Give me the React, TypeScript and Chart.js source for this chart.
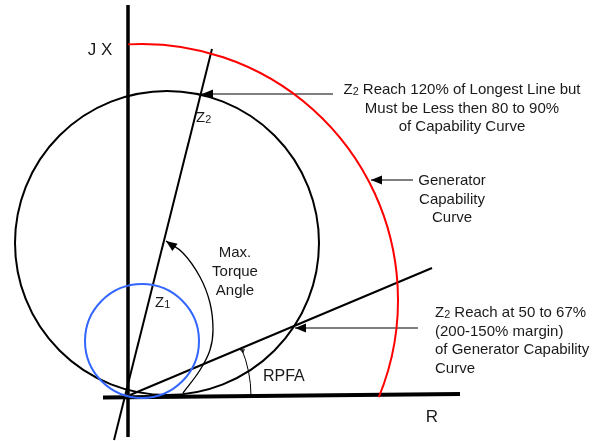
import React, { useEffect, useRef } from "react";
import { Chart, registerables } from "chart.js";

Chart.register(...registerables);

// Coordinate frame: origin at the R/JX crossing, units ~ pixels
const X_RANGE = [-128, 475];
const Y_RANGE = [-45, 396];

// Straight lines
const jxAxis = [{ x: 0, y: 391 }, { x: 0, y: -41 }];
const rAxis = [{ x: -25, y: -1.5 }, { x: 332, y: 2 }];
const zLine = [{ x: -14, y: -44 }, { x: 84, y: 347 }];
const rpfaLine = [{ x: 2, y: 1 }, { x: 304, y: 128 }];

// Curved "Max. Torque Angle" arrow
const torqueArc = [
  { x: 55, y: 3 }, { x: 72, y: 26 }, { x: 82, y: 46 }, { x: 85, y: 66 },
  { x: 82, y: 93 }, { x: 72, y: 119 }, { x: 55, y: 143 }, { x: 38, y: 155 },
];

// Small tick at the end of the RPFA angle arc
const rpfaTick = [{ x: 116, y: 45 }, { x: 112, y: 46.5 }];

// Annotation arrows (tail -> tip)
const arrowZ2Top = [{ x: 205, y: 302 }, { x: 74, y: 302 }];
const arrowCapability = [{ x: 285, y: 216 }, { x: 243, y: 216 }];
const arrowZ2Reach = [{ x: 290, y: 68 }, { x: 167, y: 68 }];

// Circles / arcs: centre x, centre y, radius, start deg, end deg
const mhoCircle = [39, 153, 152, 0, 360];
const z1Circle = [14, 55, 57, 0, 360];
const capabilityArc = [14, 96, 256, 93.1, -22.3];
const rpfaAngleArc = [0, 0, 123, 0, 22.8];

// Texts
const noteZ2Top = ["Reach 120% of Longest Line but", "Must be Less then 80 to 90%", "of Capability Curve"];
const noteCapability = ["Generator", "Capability", "Curve"];
const noteZ2Reach = ["Reach at 50 to 67%", "(200-150% margin)", "of Generator Capability", "Curve"];
const noteTorque = ["Max.", "Torque", "Angle"];

const FONT = '"Liberation Sans", Arial, sans-serif';

const arcStyles = [
  { data: mhoCircle, color: "#000000", width: 2 },
  { data: z1Circle, color: "#3366ff", width: 2 },
  { data: capabilityArc, color: "#ff0000", width: 2 },
  { data: rpfaAngleArc, color: "#000000", width: 1 },
];

const diagramPlugin = {
  id: "diagram",
  afterDatasetsDraw(chart: any) {
    const { ctx } = chart;
    const xs = chart.scales.x;
    const ys = chart.scales.y;
    const px = (v: number) => xs.getPixelForValue(v);
    const py = (v: number) => ys.getPixelForValue(v);

    // arcs
    arcStyles.forEach((a) => {
      const [cx, cy, r, s, e] = a.data;
      const rp = px(cx + r) - px(cx);
      ctx.save();
      ctx.beginPath();
      ctx.strokeStyle = a.color;
      ctx.lineWidth = a.width;
      ctx.arc(px(cx), py(cy), rp, (-s * Math.PI) / 180, (-e * Math.PI) / 180, e > s);
      ctx.stroke();
      ctx.restore();
    });

    // arrowheads
    chart.data.datasets.forEach((ds: any, i: number) => {
      if (!ds.arrow) return;
      const meta = chart.getDatasetMeta(i);
      const pts = meta.data;
      const n = pts.length;
      const tip = pts[n - 1];
      const prev = pts[n - 2];
      const ang = Math.atan2(tip.y - prev.y, tip.x - prev.x);
      const L = ds.arrowLen || 11;
      const W = ds.arrowWidth || 4.5;
      ctx.save();
      ctx.fillStyle = "#000";
      ctx.beginPath();
      ctx.moveTo(tip.x, tip.y);
      ctx.lineTo(tip.x - L * Math.cos(ang) + W * Math.sin(ang), tip.y - L * Math.sin(ang) - W * Math.cos(ang));
      ctx.lineTo(tip.x - L * Math.cos(ang) - W * Math.sin(ang), tip.y - L * Math.sin(ang) + W * Math.cos(ang));
      ctx.closePath();
      if (ds.hollow) {
        ctx.strokeStyle = "#000";
        ctx.lineWidth = 0.8;
        ctx.stroke();
      } else {
        ctx.fill();
      }
      ctx.restore();
    });

    // texts
    ctx.save();
    ctx.fillStyle = "#1a1a1a";
    ctx.textBaseline = "middle";
    const text = (t: string, x: number, y: number, size: number, align: string) => {
      ctx.font = `${size}px ${FONT}`;
      ctx.textAlign = align;
      ctx.fillText(t, px(x), py(y));
    };
    // Z with subscript, then rest of line
    const zsub = (sub: string, rest: string, x: number, y: number, size: number, align: string) => {
      ctx.font = `${size}px ${FONT}`;
      const wz = ctx.measureText("Z").width;
      ctx.font = `${size * 0.72}px ${FONT}`;
      const ws = ctx.measureText(sub).width;
      ctx.font = `${size}px ${FONT}`;
      const wr = rest ? ctx.measureText(" " + rest).width : 0;
      const total = wz + ws + wr;
      let x0 = px(x);
      if (align === "center") x0 -= total / 2;
      const yy = py(y);
      ctx.textAlign = "left";
      ctx.font = `${size}px ${FONT}`;
      ctx.fillText("Z", x0, yy);
      ctx.font = `${size * 0.72}px ${FONT}`;
      ctx.fillText(sub, x0 + wz, yy + size * 0.12);
      ctx.font = `${size}px ${FONT}`;
      if (rest) ctx.fillText(" " + rest, x0 + wz + ws, yy);
    };

    text("J X", -28, 346, 17, "center");
    text("R", 304, -21, 17, "center");
    text("RPFA", 135, 19, 16, "left");
    zsub("2", "", 68, 278, 15, "left");
    zsub("1", "", 27, 93, 15, "left");

    zsub("2", noteZ2Top[0], 334, 306, 15, "center");
    text(noteZ2Top[1], 334, 287, 15, "center");
    text(noteZ2Top[2], 334, 269, 15, "center");

    noteCapability.forEach((t, i) => text(t, 324, 215 - i * 18.5, 15, "center"));

    zsub("2", noteZ2Reach[0], 307, 83, 15, "left");
    noteZ2Reach.slice(1).forEach((t, i) => text(t, 307, 64.5 - i * 18.5, 15, "left"));

    noteTorque.forEach((t, i) => text(t, 107, 143 - i * 19, 15, "center"));
    ctx.restore();
  },
};

const lineDs = (data: any[], color: string, width: number, extra: any = {}) => ({
  data,
  showLine: true,
  borderColor: color,
  backgroundColor: color,
  borderWidth: width,
  pointRadius: 0,
  pointHoverRadius: 0,
  fill: false,
  ...extra,
});

export default function App() {
  const ref = useRef<HTMLCanvasElement>(null);
  useEffect(() => {
    if (!ref.current) return;
    const chart = new Chart(ref.current, {
      type: "scatter",
      data: {
        datasets: [
          lineDs(jxAxis, "#000", 3.5),
          lineDs(rAxis, "#000", 4),
          lineDs(zLine, "#000", 2),
          lineDs(rpfaLine, "#000", 2),
          lineDs(torqueArc, "#000", 1.3, { tension: 0.4, arrow: true, arrowLen: 11, arrowWidth: 4.5 }),
          lineDs(rpfaTick, "#000", 0.8, { arrow: true, hollow: true, arrowLen: 4, arrowWidth: 2 }),
          lineDs(arrowZ2Top, "#555", 1.5, { arrow: true }),
          lineDs(arrowCapability, "#555", 1.5, { arrow: true }),
          lineDs(arrowZ2Reach, "#555", 1.5, { arrow: true }),
        ] as any,
      },
      options: {
        animation: false,
        responsive: false,
        events: [],
        layout: { padding: 0 },
        plugins: { legend: { display: false }, tooltip: { enabled: false } },
        scales: {
          x: { type: "linear", display: false, min: X_RANGE[0], max: X_RANGE[1] },
          y: { type: "linear", display: false, min: Y_RANGE[0], max: Y_RANGE[1] },
        },
      },
      plugins: [diagramPlugin],
    });
    return () => chart.destroy();
  }, []);
  return (
    <div style={{ position: "fixed", left: 0, top: 0, width: 603, height: 441, background: "#fff" }}>
      <canvas ref={ref} width={603} height={441} style={{ display: "block" }} />
    </div>
  );
}
